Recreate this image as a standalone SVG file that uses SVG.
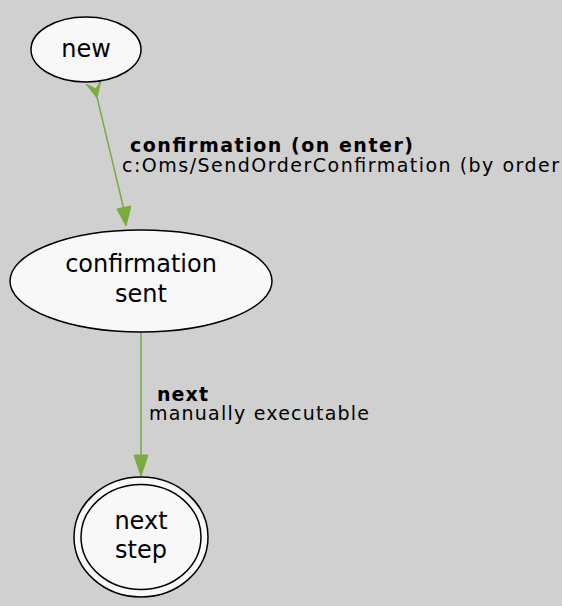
<svg xmlns="http://www.w3.org/2000/svg" width="562" height="606" viewBox="0 0 562 606">
<style>
.node{fill:#f8f8f8;stroke:#000;stroke-width:1.5}
.nt{font-family:"DejaVu Sans",sans-serif;font-size:24px;text-anchor:middle;fill:#000}
.edge{stroke:#7aab3e;stroke-width:1.5;fill:none}
.ah{fill:#7aab3e;stroke:#7aab3e;stroke-width:1}
.lb{font-family:"DejaVu Sans",sans-serif;font-size:19px;fill:#000}
.b{font-weight:bold}
</style>
<rect width="562" height="606" fill="#d0d0d0"/>
<g id="connectors">
<path class="edge" d="M97,97 L124,210"/>
<polygon class="ah" points="86,84 97,98 101,80 96,89"/>
<polygon class="ah" points="117,209 131,206 126,226"/>
<path class="edge" d="M141,332 L141,456"/>
<polygon class="ah" points="134,455 148,455 141,476"/>
<text class="lb b" x="130" y="152" textLength="283" lengthAdjust="spacing">confirmation (on enter)</text>
<text class="lb" x="122" y="171.5" textLength="437" lengthAdjust="spacing">c:Oms/SendOrderConfirmation (by order</text>
<text class="lb b" x="157" y="400.5" textLength="51" lengthAdjust="spacing">next</text>
<text class="lb" x="149" y="420" textLength="220" lengthAdjust="spacing">manually executable</text>
</g>
<g id="new">
<ellipse class="node" cx="86" cy="49.5" rx="55" ry="32.5"/>
<text class="nt" x="86" y="57">new</text>
</g>
<g id="confirmation_sent">
<ellipse class="node" cx="141" cy="281" rx="131" ry="51"/>
<text class="nt" x="141" y="272">confirmation</text>
<text class="nt" x="141" y="301.5">sent</text>
</g>
<g id="next_step">
<ellipse class="node" cx="141" cy="537" rx="67" ry="60"/>
<ellipse class="node" cx="141" cy="537" rx="60" ry="52.5"/>
<text class="nt" x="141" y="528.5">next</text>
<text class="nt" x="141" y="558">step</text>
</g>
</svg>
